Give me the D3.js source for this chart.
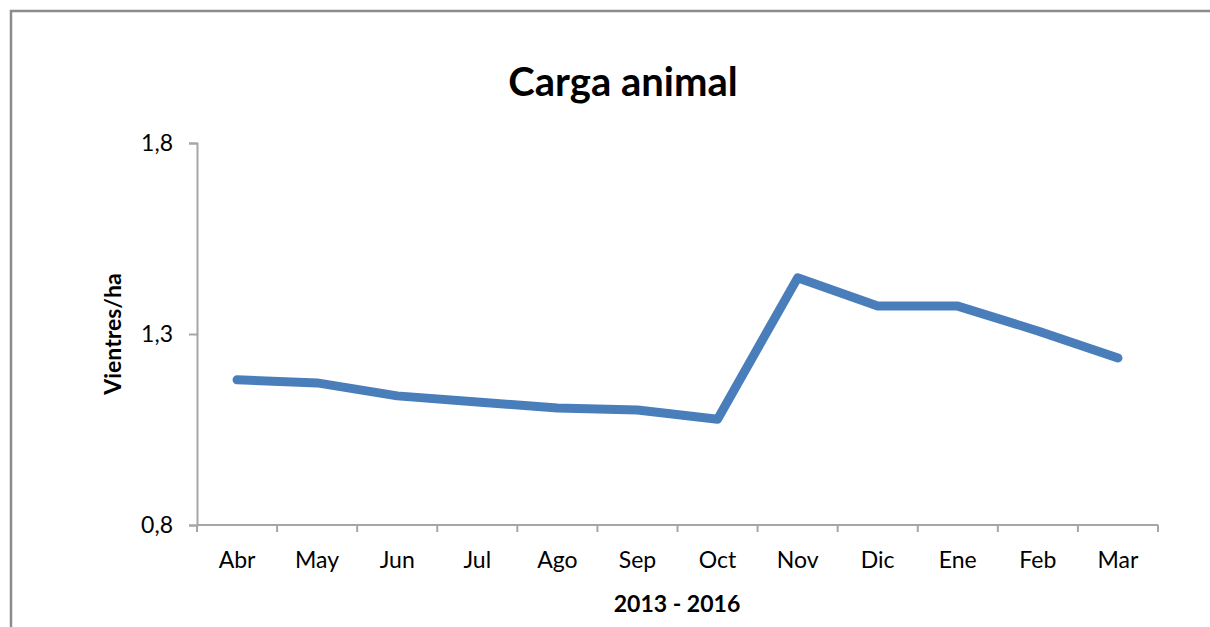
<!DOCTYPE html>
<html>
<head>
<meta charset="utf-8">
<script src="https://cdn.jsdelivr.net/npm/d3@7"></script>
<style>
  body { margin: 0; background: #fff; }
  svg { display: block; font-family: Lato, "Open Sans", sans-serif; }
  .axis path, .axis line { stroke: #a6a6a6; stroke-width: 2; }
  .axis text { font-family: Lato, "Open Sans", sans-serif; font-size: 23px; fill: #000; }
</style>
</head>
<body>
<div id="chart"></div>
<script>
var months = ["Abr", "May", "Jun", "Jul", "Ago", "Sep", "Oct", "Nov", "Dic", "Ene", "Feb", "Mar"];
var carga = [1.18, 1.172, 1.138, 1.122, 1.106, 1.101, 1.077, 1.447, 1.373, 1.373, 1.308, 1.237];
var yTicks = [0.8, 1.3, 1.8];

var width = 1210, height = 627;
var margin = {top: 143, right: 52, bottom: 102, left: 197};
var w = width - margin.left - margin.right,
    h = height - margin.top - margin.bottom;

var svg = d3.select("#chart").append("svg")
    .attr("width", width)
    .attr("height", height);

// frame
svg.append("rect")
    .attr("x", 11).attr("y", 11)
    .attr("width", width).attr("height", height)
    .attr("fill", "none")
    .attr("stroke", "#8c8c8c")
    .attr("stroke-width", 2.5);

svg.append("text")
    .attr("x", 623).attr("y", 96)
    .attr("text-anchor", "middle")
    .style("font-size", "40px")
    .style("font-weight", "bold")
    .text("Carga animal");

var g = svg.append("g")
    .attr("transform", "translate(" + margin.left + "," + margin.top + ")");

var x = d3.scaleBand().domain(months).range([0, w]);
var y = d3.scaleLinear().domain([0.8, 1.8]).range([h, 0]);

var comma = function(d) { return d3.format(".1f")(d).replace(".", ","); };

var yAxis = g.append("g")
    .attr("class", "axis")
    .call(d3.axisLeft(y).tickValues(yTicks).tickFormat(comma).tickSizeOuter(0).tickSize(8).tickPadding(16));

var xAxis = g.append("g")
    .attr("class", "axis")
    .attr("transform", "translate(0," + h + ")")
    .call(d3.axisBottom(x).tickSize(0).tickPadding(27));
xAxis.select(".domain").attr("d", "M0,0H" + w);

// Excel-style ticks between categories
xAxis.selectAll(".between")
    .data(d3.range(months.length + 1))
  .enter().append("line")
    .attr("class", "between")
    .attr("x1", function(i) { return i * x.step(); })
    .attr("x2", function(i) { return i * x.step(); })
    .attr("y1", 0).attr("y2", 7);

var line = d3.line()
    .x(function(d, i) { return x(months[i]) + x.bandwidth() / 2; })
    .y(function(d) { return y(d); });

g.append("path")
    .datum(carga)
    .attr("d", line)
    .attr("fill", "none")
    .attr("stroke", "#4a7ebb")
    .attr("stroke-width", 9)
    .attr("stroke-linecap", "round")
    .attr("stroke-linejoin", "round");

svg.append("text")
    .attr("transform", "translate(121," + (margin.top + y(1.3)) + ") rotate(-90)")
    .attr("text-anchor", "middle")
    .style("font-size", "23px")
    .style("font-weight", "bold")
    .text("Vientres/ha");

svg.append("text")
    .attr("x", 677).attr("y", 612)
    .attr("text-anchor", "middle")
    .style("font-size", "23px")
    .style("font-weight", "bold")
    .text("2013 - 2016");
</script>
</body>
</html>
